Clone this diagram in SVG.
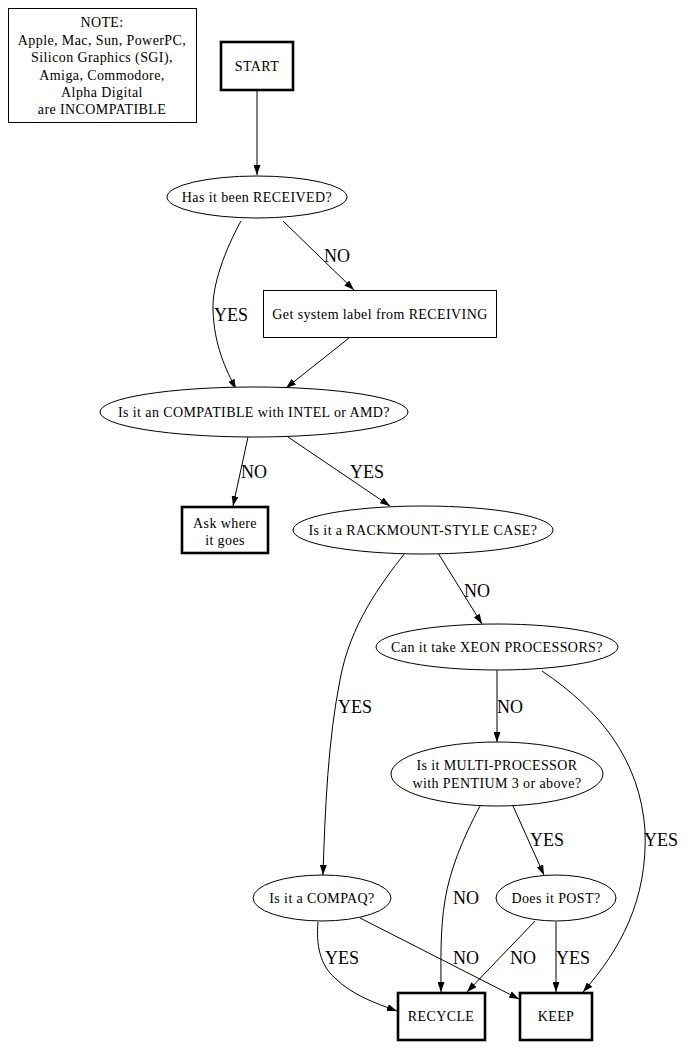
<svg xmlns="http://www.w3.org/2000/svg" width="698" height="1047" viewBox="0 0 698 1047">
<defs>
<marker id="ah" markerWidth="10" markerHeight="7" refX="10" refY="3.5" orient="auto" markerUnits="userSpaceOnUse">
<path d="M0,0 L10,3.5 L0,7 z" fill="#000"/>
</marker>
<style>
text{font-family:'Liberation Serif','DejaVu Serif',serif;fill:#000;text-anchor:middle}
.n{font-size:14px;letter-spacing:0.4px}
.l{font-size:18px}
.box{fill:#fff;stroke:#000;stroke-width:1}
.term{fill:#fff;stroke:#000;stroke-width:2.6}
.ell{fill:#fff;stroke:#000;stroke-width:1}
.e{fill:none;stroke:#000;stroke-width:1;marker-end:url(#ah)}
</style>
</defs>
<rect width="698" height="1047" fill="#fff"/>
<g id="connectors">
<path class="e" d="M257,90 L257,175"/>
<path class="e" d="M241,221 C225,250 212,285 213,310 C214,345 226,370 236,389"/>
<path class="e" d="M283,221 L354,290"/>
<path class="e" d="M349,338 L286,388"/>
<path class="e" d="M248,437 L233,506"/>
<path class="e" d="M288,437 L390,506"/>
<path class="e" d="M438,553 L482,624"/>
<path class="e" d="M405,553 C380,585 350,625 340,680 C328,740 325,810 323,875"/>
<path class="e" d="M497,670 L497,742"/>
<path class="e" d="M542,671 C600,710 640,760 645,830 C648,900 620,950 583,992"/>
<path class="e" d="M480,806 C462,840 450,870 445,900 C440,930 441,960 441,992"/>
<path class="e" d="M513,806 L544,875"/>
<path class="e" d="M318,922 C316,945 320,965 335,978 C352,995 375,1003 397,1011"/>
<path class="e" d="M360,918 L519,999"/>
<path class="e" d="M535,921 L467,992"/>
<path class="e" d="M556,922 L556,992"/>
</g>
<g id="edge-labels">
<text class="l" x="231" y="321">YES</text>
<text class="l" x="337" y="262">NO</text>
<text class="l" x="254" y="478">NO</text>
<text class="l" x="367" y="478">YES</text>
<text class="l" x="477" y="597">NO</text>
<text class="l" x="355" y="713">YES</text>
<text class="l" x="510" y="713">NO</text>
<text class="l" x="661" y="846">YES</text>
<text class="l" x="547" y="846">YES</text>
<text class="l" x="466" y="904">NO</text>
<text class="l" x="342" y="964">YES</text>
<text class="l" x="466" y="964">NO</text>
<text class="l" x="523" y="964">NO</text>
<text class="l" x="573" y="964">YES</text>
</g>
<g id="note">
<rect class="box" x="8.5" y="8.5" width="188" height="114"/>
<text class="n" x="102" y="27">NOTE:</text>
<text class="n" x="102" y="45">Apple, Mac, Sun, PowerPC,</text>
<text class="n" x="102" y="62">Silicon Graphics (SGI),</text>
<text class="n" x="102" y="80">Amiga, Commodore,</text>
<text class="n" x="102" y="97">Alpha Digital</text>
<text class="n" x="102" y="114">are INCOMPATIBLE</text>
</g>
<g id="start">
<rect class="term" x="221" y="42" width="72" height="48"/>
<text class="n" x="257" y="71">START</text>
</g>
<g id="received">
<ellipse class="ell" cx="257" cy="197" rx="90" ry="21"/>
<text class="n" x="257" y="202">Has it been RECEIVED?</text>
</g>
<g id="getlabel">
<rect class="box" x="263.5" y="290.5" width="233" height="47"/>
<text class="n" x="380" y="319">Get system label from RECEIVING</text>
</g>
<g id="compatible">
<ellipse class="ell" cx="254" cy="412" rx="154" ry="25"/>
<text class="n" x="254" y="417">Is it an COMPATIBLE with INTEL or AMD?</text>
</g>
<g id="askwhere">
<rect class="term" x="182" y="507" width="86" height="46"/>
<text class="n" x="225" y="528">Ask where</text>
<text class="n" x="225" y="545">it goes</text>
</g>
<g id="rackmount">
<ellipse class="ell" cx="423" cy="530" rx="130" ry="24"/>
<text class="n" x="423" y="535">Is it a RACKMOUNT-STYLE CASE?</text>
</g>
<g id="xeon">
<ellipse class="ell" cx="497" cy="647" rx="121" ry="23"/>
<text class="n" x="497" y="652">Can it take XEON PROCESSORS?</text>
</g>
<g id="multi">
<ellipse class="ell" cx="497" cy="774" rx="106" ry="32"/>
<text class="n" x="497" y="770">Is it MULTI-PROCESSOR</text>
<text class="n" x="497" y="788">with PENTIUM 3 or above?</text>
</g>
<g id="compaq">
<ellipse class="ell" cx="322" cy="898" rx="69" ry="23"/>
<text class="n" x="322" y="903">Is it a COMPAQ?</text>
</g>
<g id="post">
<ellipse class="ell" cx="556" cy="898" rx="60" ry="23"/>
<text class="n" x="556" y="903">Does it POST?</text>
</g>
<g id="recycle">
<rect class="term" x="398" y="993" width="87" height="47"/>
<text class="n" x="441" y="1021">RECYCLE</text>
</g>
<g id="keep">
<rect class="term" x="520" y="993" width="72" height="47"/>
<text class="n" x="556" y="1021">KEEP</text>
</g>
</svg>
